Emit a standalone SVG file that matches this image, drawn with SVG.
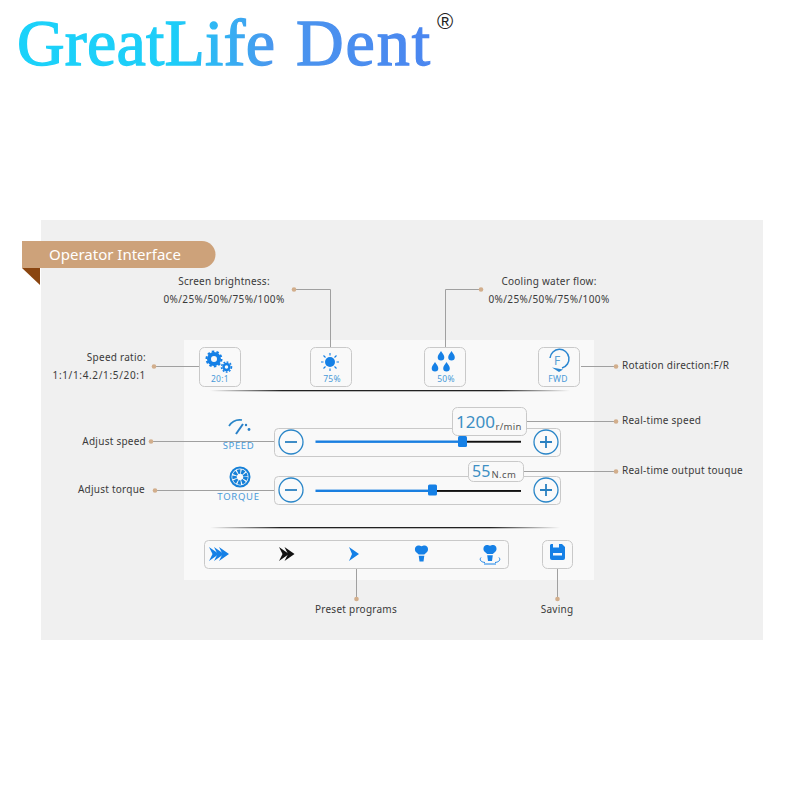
<svg xmlns="http://www.w3.org/2000/svg" width="800" height="800" viewBox="0 0 800 800">
<style>
.lb{font-family:"Noto Sans","Liberation Sans",sans-serif;font-size:10px;fill:#3a3a3a;letter-spacing:.25px}
.nm{letter-spacing:.47px}
.ic{font-family:"Noto Sans","Liberation Sans",sans-serif;font-size:8.500px;fill:#4a9ad8;text-anchor:middle;letter-spacing:.3px}
.box{fill:#f9f9f9;stroke:#c9c9c9;stroke-width:1}
.ln{fill:none;stroke:#a0a0a0;stroke-width:1}
.dot{fill:#d2ae8c}
.bl{fill:#1580e6}
.cs{fill:#fafafa;stroke:#2a86c8;stroke-width:1.300}
.sg{stroke:#2a80c0;stroke-width:1.800;fill:none}
.val{font-family:"Noto Sans","Liberation Sans",sans-serif;fill:#3d8fc4}
.un{font-family:"Noto Sans","Liberation Sans",sans-serif;fill:#555}
.logo{font-family:"Liberation Serif",serif;font-size:66px;fill:url(#lg);stroke:url(#lg);stroke-width:1.300px}
</style>
<defs>
<linearGradient id="lg" gradientUnits="userSpaceOnUse" x1="18" y1="0" x2="430" y2="0">
<stop offset="0" stop-color="#1bd2fa"/><stop offset=".38" stop-color="#1dcdf8"/><stop offset=".62" stop-color="#4a96ee"/><stop offset="1" stop-color="#4a86f0"/>
</linearGradient>
<linearGradient id="rule" x1="0" y1="0" x2="1" y2="0">
<stop offset="0" stop-color="#222" stop-opacity="0"/><stop offset=".2" stop-color="#222"/><stop offset=".8" stop-color="#222"/><stop offset="1" stop-color="#222" stop-opacity="0"/>
</linearGradient>
<path id="drop" d="M0-5C1.500-2.500 3.300-.8 3.300 1.300A3.300 3.300 0 0 1-3.300 1.300C-3.300-.8-1.500-2.500 0-5Z"/>
<path id="chev" d="M0 0L10 7L0 14L3.500 7Z"/>
<path id="tooth" d="M-3.200-8C-7-8-7.500-2.500-5-1L-2.800 1H2.800L5-1C7.500-2.500 7-8 3.200-8C1.800-8 1-7.300 0-7.300C-1-7.300-1.800-8-3.200-8ZM-2.800 2.200H2.800L2 8H-2Z"/>
</defs>
<rect width="800" height="800" fill="#fff"/>
<g id="logo">
<text class="logo" x="17" y="65" textLength="258" lengthAdjust="spacing">GreatLife</text>
<text class="logo" x="296" y="65" textLength="134" lengthAdjust="spacing">Dent</text>
<text x="445" y="29" font-family="Liberation Sans,sans-serif" font-size="22" fill="#222" text-anchor="middle">®</text>
</g>
<rect id="panel" x="41" y="220" width="722" height="420" fill="#f0f0f0"/>
<rect id="screen" x="184" y="340" width="410" height="240" fill="#f9f9f9"/>
<g id="banner">
<path d="M22 241H202A13.500 13.500 0 0 1 202 268H22Z" fill="#cda27a"/>
<path d="M22 268H40V285Z" fill="#8a4510"/>
<text x="49" y="260" font-family="Noto Sans,sans-serif" font-size="15" fill="#fff">Operator Interface</text>
</g>
<g id="connectors">
<path class="ln" d="M294 289.500H330.500V348M481 289.500H445.500V348M154 366.500H199M581 366.500H616M151 441.500H275M155 490.500H275M526 421.500H616M523 471.500H616M356.500 568V599M557.500 569V599"/>
<circle class="dot" cx="294" cy="289.500" r="2.300"/><circle class="dot" cx="481" cy="289.500" r="2.300"/>
<circle class="dot" cx="154" cy="366.500" r="2.300"/><circle class="dot" cx="616" cy="366.500" r="2.300"/>
<circle class="dot" cx="151" cy="441.500" r="2.300"/><circle class="dot" cx="155" cy="490.500" r="2.300"/>
<circle class="dot" cx="616" cy="421.500" r="2.300"/><circle class="dot" cx="616" cy="471.500" r="2.300"/>
<circle class="dot" cx="356.500" cy="599" r="2.300"/><circle class="dot" cx="557.500" cy="599" r="2.300"/>
</g>
<g id="labels">
<text class="lb" x="224" y="285" text-anchor="middle">Screen brightness:</text>
<text class="lb nm" x="224" y="303" text-anchor="middle" style="letter-spacing:.4px">0%/25%/50%/75%/100%</text>
<text class="lb" x="549" y="285" text-anchor="middle">Cooling water flow:</text>
<text class="lb nm" x="549" y="303" text-anchor="middle" style="letter-spacing:.4px">0%/25%/50%/75%/100%</text>
<text class="lb" x="146" y="361" text-anchor="end">Speed ratio:</text>
<text class="lb" x="146" y="379" text-anchor="end" style="letter-spacing:.65px">1:1/1:4.2/1:5/20:1</text>
<text class="lb" x="622" y="369">Rotation direction:F/R</text>
<text class="lb" x="622" y="424">Real-time speed</text>
<text class="lb" x="622" y="474">Real-time output touque</text>
<text class="lb" x="146" y="445" text-anchor="end">Adjust speed</text>
<text class="lb" x="145" y="493" text-anchor="end">Adjust torque</text>
<text class="lb" x="356" y="613" text-anchor="middle">Preset programs</text>
<text class="lb" x="557" y="613" text-anchor="middle">Saving</text>
</g>
<rect id="rule1" x="210" y="390" width="360" height="1.300" fill="url(#rule)"/>
<rect id="rule2" x="210" y="527" width="350" height="1.300" fill="url(#rule)"/>
<g id="ratio">
<rect class="box" x="199.500" y="347.500" width="41" height="39" rx="5"/>
<circle cx="214" cy="359" r="5" fill="none" stroke="#1580e6" stroke-width="4"/>
<circle cx="214" cy="359" r="7.500" fill="none" stroke="#1580e6" stroke-width="2" stroke-dasharray="2.500 2.200"/>
<circle cx="226.500" cy="367" r="3" fill="none" stroke="#1580e6" stroke-width="2.500"/>
<circle cx="226.500" cy="367" r="5" fill="none" stroke="#1580e6" stroke-width="1.500" stroke-dasharray="1.800 1.500"/>
<text class="ic" x="220" y="382">20:1</text>
</g>
<g id="brightness">
<rect class="box" x="310.500" y="347.500" width="41" height="39" rx="5"/>
<circle cx="330" cy="362" r="5" class="bl"/>
<path d="M330 353V355.500M330 368.500V371M321 362H323.500M336.500 362H339M323.500 355.500L325.500 357.500M334.500 366.500L336.500 368.500M336.500 355.500L334.500 357.500M325.500 366.500L323.500 368.500" stroke="#1580e6" stroke-width="1.100" fill="none"/>
<text class="ic" x="332" y="382">75%</text>
</g>
<g id="water">
<rect class="box" x="424.500" y="347.500" width="41" height="39" rx="5"/>
<use href="#drop" x="441" y="356" class="bl"/>
<use href="#drop" x="451.500" y="356" class="bl"/>
<use href="#drop" x="435" y="367" class="bl"/>
<use href="#drop" x="446.500" y="367" class="bl"/>
<text class="ic" x="446" y="382">50%</text>
</g>
<g id="rotation">
<rect class="box" x="538.500" y="347.500" width="41" height="39" rx="5"/>
<path d="M550 358A9.500 9.500 0 1 1 562 368" fill="none" stroke="#2a86d0" stroke-width="1.500"/>
<path d="M552 367.500L563 369.500L559 372Z" fill="#2a86d0"/>
<text x="557" y="365" font-family="Noto Sans,sans-serif" font-size="12" fill="#5a9fd4" text-anchor="middle">F</text>
<text class="ic" x="558" y="382">FWD</text>
</g>
<g id="speed">
<path d="M229 426A13 13 0 0 1 242 420" fill="none" stroke="#2a86c8" stroke-width="1.700"/>
<path d="M236 434L243 424" stroke="#2a80c8" stroke-width="2"/>
<circle cx="246" cy="425" r="1.200" fill="#2a80c8"/><circle cx="249" cy="429.500" r="1.400" fill="#2a80c8"/>
<text class="ic" x="238.500" y="449" style="font-size:9.500px;letter-spacing:.6px">SPEED</text>
<rect class="box" x="274.500" y="428.500" width="286" height="28" rx="4"/>
<circle class="cs" cx="291" cy="442" r="12"/><path class="sg" d="M285 442H297"/>
<rect x="315.500" y="440.500" width="147" height="2.400" fill="#1a7fe0"/>
<rect x="462" y="440.800" width="59" height="1.900" fill="#111"/>
<rect x="458" y="436" width="9" height="11" rx="1.500" class="bl"/>
<circle class="cs" cx="546" cy="442" r="12"/><path class="sg" d="M540 442H552M546 436V448"/>
<rect class="box" x="452.500" y="407.500" width="74" height="28" rx="5"/>
<text x="456" y="428" class="val" font-size="17">1200</text><text x="495.500" y="429.500" class="un" font-size="9.500" letter-spacing=".3">r/min</text>
</g>
<g id="torque">
<circle cx="240" cy="477" r="9.500" fill="none" stroke="#1580d8" stroke-width="2"/>
<circle cx="240" cy="477" r="5.500" fill="none" stroke="#1580d8" stroke-width="4.500" stroke-dasharray="2.800 1"/>
<text class="ic" x="238.500" y="500" style="font-size:9.500px;letter-spacing:.7px">TORQUE</text>
<rect class="box" x="274.500" y="476.500" width="286" height="28" rx="4"/>
<circle class="cs" cx="291" cy="490" r="12"/><path class="sg" d="M285 490H297"/>
<rect x="315.500" y="489.600" width="117" height="2.400" fill="#1a7fe0"/>
<rect x="432" y="490" width="89" height="1.900" fill="#111"/>
<rect x="428" y="484.500" width="9" height="11" rx="1.500" class="bl"/>
<circle class="cs" cx="546" cy="490" r="12"/><path class="sg" d="M540 490H552M546 484V496"/>
<rect class="box" x="468.500" y="461.500" width="55" height="20" rx="5"/>
<text x="472" y="477" class="val" font-size="16">55</text><text x="491.500" y="477.500" class="un" font-size="9.500" letter-spacing=".4">N.cm</text>
</g>
<g id="presets">
<rect class="box" x="204.500" y="540.500" width="304" height="28" rx="4"/>
<use href="#chev" x="209" y="547" class="bl"/><use href="#chev" x="214" y="547" class="bl"/><use href="#chev" x="219" y="547" class="bl"/>
<use href="#chev" x="279" y="547" fill="#111"/><use href="#chev" x="284.500" y="547" fill="#111"/>
<path d="M349 547L359 554L349 561L352 554Z" class="bl"/>
<use href="#tooth" x="421.500" y="553.500" class="bl"/>
<use href="#tooth" x="490" y="553" class="bl"/>
<path d="M481 557.500C479 560 481 562 485 562.500M499 557.500C501 560 499 562 495 562.500M484 564H496" fill="none" stroke="#1580e6" stroke-width="1"/>
</g>
<g id="saving">
<rect class="box" x="542.500" y="540.500" width="30" height="28" rx="5"/>
<path d="M551 544H562L565 547V558A2 2 0 0 1 563 560H552A2 2 0 0 1 550 558V545Z" class="bl"/>
<rect x="553" y="544" width="6" height="3.500" fill="#f4f9fe"/>
<rect x="553" y="553" width="9" height="2.500" fill="#f4f9fe"/>
</g>
</svg>
